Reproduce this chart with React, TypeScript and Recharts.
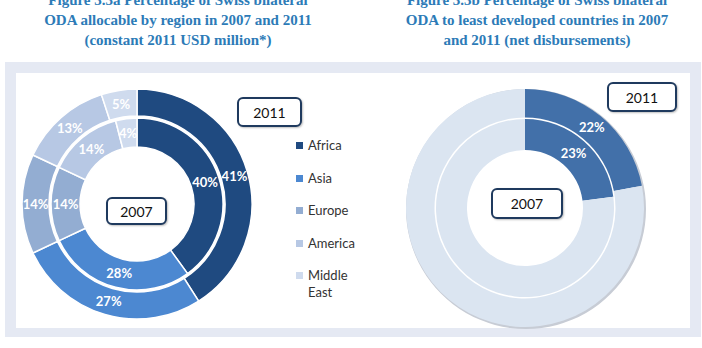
import { PieChart, Pie, Cell } from 'recharts';

const regions = ['Africa', 'Asia', 'Europe', 'America', 'Middle East'];
const regionShare2011 = [41, 27, 14, 13, 5];
const regionShare2007 = [40, 28, 14, 14, 4];
const regionColors = ['#1f4a80', '#4c88d1', '#93add2', '#b7c8e4', '#cfdbee'];

const ldcGroups = ['Least developed countries', 'Other'];
const ldcShare2011 = [22, 78];
const ldcShare2007 = [23, 77];
const ldcColors = ['#4270a9', '#dbe5f1'];

const titleA = ['Figure 3.3a Percentage of Swiss bilateral', 'ODA allocable by region in 2007 and 2011', '(constant 2011 USD million*)'];
const titleB = ['Figure 3.3b Percentage of Swiss bilateral', 'ODA to least developed countries in 2007', 'and 2011 (net disbursements)'];

const RADIAN = Math.PI / 180;

const toRows = (names: string[], values: number[]) => names.map((name, i) => ({ name, value: values[i] }));

const makeLabel = (onlyFirst: boolean) => (props: any) => {
  const { cx, cy, midAngle, innerRadius, outerRadius, value, index } = props;
  if (onlyFirst && index !== 0) return null;
  const r = (innerRadius + outerRadius) / 2;
  const x = cx + r * Math.cos(-midAngle * RADIAN);
  const y = cy + r * Math.sin(-midAngle * RADIAN);
  return (
    <text
      x={x}
      y={y}
      fill="#fff"
      textAnchor="middle"
      dominantBaseline="central"
      fontSize={13}
      fontWeight={700}
      fontFamily="Lato, sans-serif"
    >
      {value}%
    </text>
  );
};

const YearBox = ({ left, top, width, height, text }: { left: number; top: number; width: number; height: number; text: string }) => (
  <div
    style={{
      position: 'absolute',
      left,
      top,
      width,
      height,
      boxSizing: 'border-box',
      border: '2px solid #1f3a5e',
      borderRadius: 6,
      background: '#fff',
      boxShadow: '1px 1px 2px rgba(0,0,0,0.25)',
      display: 'flex',
      alignItems: 'center',
      justifyContent: 'center',
      fontSize: 14,
      color: '#111',
      fontFamily: 'Lato, sans-serif',
    }}
  >
    {text}
  </div>
);

const Title = ({ lines, center }: { lines: string[]; center: number }) => (
  <div
    style={{
      position: 'absolute',
      left: center - 200,
      top: -10,
      width: 400,
      textAlign: 'center',
      fontFamily: '"Liberation Serif", serif',
      fontWeight: 700,
      fontSize: 15,
      lineHeight: '20px',
      color: '#2d7bb7',
    }}
  >
    {lines.map((l) => (
      <div key={l}>{l}</div>
    ))}
  </div>
);

export default function App() {
  return (
    <div style={{ position: 'absolute', left: 0, top: 0, width: 702, height: 348, background: '#fff', overflow: 'hidden' }}>
      <Title lines={titleA} center={178} />
      <Title lines={titleB} center={537} />
      <div style={{ position: 'absolute', left: 5, top: 62, width: 696, height: 275, background: '#e5e9f3' }} />
      <div style={{ position: 'absolute', left: 16, top: 73, width: 674, height: 255, background: '#fff' }} />
      <div style={{ position: 'absolute', left: 0, top: 0 }}>
        <PieChart width={702} height={348} margin={{ top: 0, right: 0, bottom: 0, left: 0 }}>
          {/* figure 3.3a */}
          <Pie
            data={toRows(regions, regionShare2011)}
            dataKey="value"
            cx={137}
            cy={204}
            innerRadius={88}
            outerRadius={115}
            startAngle={90}
            endAngle={-270}
            stroke="#fff"
            strokeWidth={1.5}
            labelLine={false}
            label={makeLabel(false)}
            isAnimationActive={false}
          >
            {regions.map((r, i) => (
              <Cell key={r} fill={regionColors[i]} />
            ))}
          </Pie>
          <Pie
            data={toRows(regions, regionShare2007)}
            dataKey="value"
            cx={137}
            cy={204}
            innerRadius={57}
            outerRadius={86}
            startAngle={90}
            endAngle={-270}
            stroke="#fff"
            strokeWidth={1.5}
            labelLine={false}
            label={makeLabel(false)}
            isAnimationActive={false}
          >
            {regions.map((r, i) => (
              <Cell key={r} fill={regionColors[i]} />
            ))}
          </Pie>
          {/* figure 3.3b */}
          <Pie
            data={[{ name: 'rim', value: 100 }]}
            dataKey="value"
            cx={526}
            cy={209}
            innerRadius={110}
            outerRadius={120}
            stroke="none"
            fill="#c7ccd5"
            isAnimationActive={false}
          />
          <Pie
            data={toRows(ldcGroups, ldcShare2011)}
            dataKey="value"
            cx={525}
            cy={208}
            innerRadius={90.5}
            outerRadius={119}
            startAngle={90}
            endAngle={-270}
            stroke="none"
            labelLine={false}
            label={makeLabel(true)}
            isAnimationActive={false}
          >
            {ldcGroups.map((g, i) => (
              <Cell key={g} fill={ldcColors[i]} />
            ))}
          </Pie>
          <Pie
            data={toRows(ldcGroups, ldcShare2007)}
            dataKey="value"
            cx={525}
            cy={208}
            innerRadius={58}
            outerRadius={89}
            startAngle={90}
            endAngle={-270}
            stroke="none"
            labelLine={false}
            label={makeLabel(true)}
            isAnimationActive={false}
          >
            {ldcGroups.map((g, i) => (
              <Cell key={g} fill={ldcColors[i]} />
            ))}
          </Pie>
        </PieChart>
      </div>
      <YearBox left={237} top={97} width={65} height={30} text="2011" />
      <YearBox left={106} top={197} width={61} height={28} text="2007" />
      <YearBox left={607} top={82} width={70} height={30} text="2011" />
      <YearBox left={491} top={188} width={72} height={31} text="2007" />
      <div style={{ position: 'absolute', left: 296, top: 137, fontFamily: 'Lato, sans-serif', fontSize: 13, color: '#333' }}>
        {regions.map((r, i) => (
          <div key={r} style={{ display: 'flex', alignItems: 'flex-start', height: 32.5, lineHeight: '17px' }}>
            <span style={{ display: 'inline-block', width: 7, height: 7, background: regionColors[i], marginTop: 5, marginRight: 5, flexShrink: 0 }} />
            <span style={{ width: 45 }}>{r}</span>
          </div>
        ))}
      </div>
    </div>
  );
}
